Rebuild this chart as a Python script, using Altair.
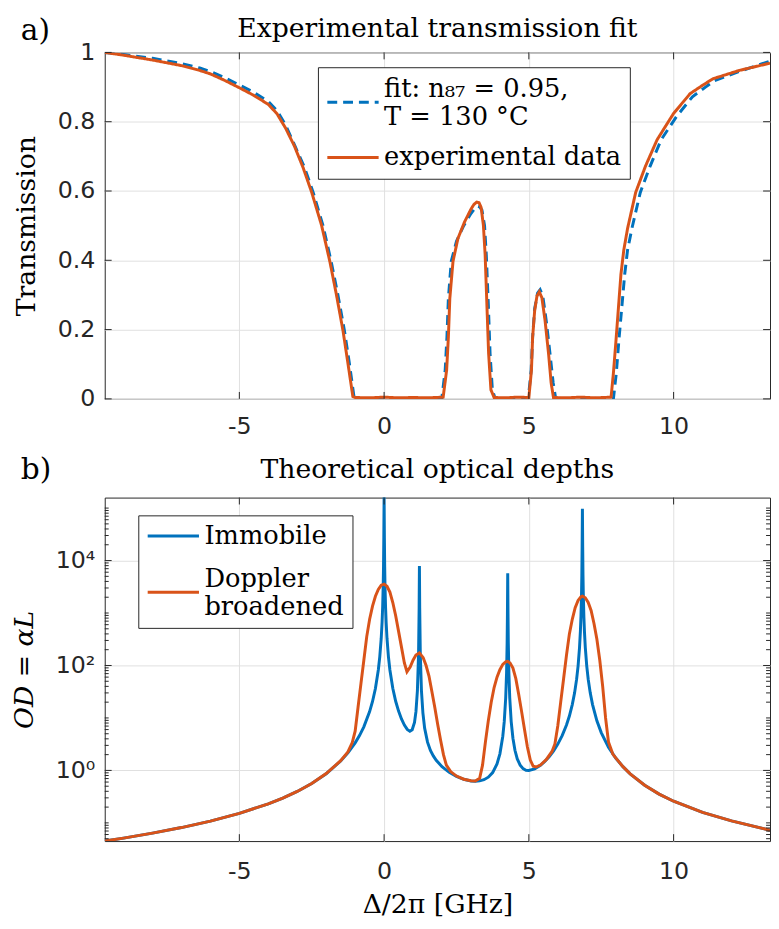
import altair as alt
import pandas as pd

# ---------------- Panel a: transmission ----------------
exp_x = [-9.65, -9.0, -8.0, -7.0, -6.37, -6.0, -5.5, -5.0, -4.5, -4.0, -3.7, -3.4, -3.1, -2.8, -2.5,
         -2.16, -1.875, -1.65, -1.42, -1.25, -1.08, -1.0, -0.5, 0.0, 0.5, 1.0, 1.5, 2.04, 2.16, 2.22,
         2.27, 2.38, 2.55, 2.78, 3.01, 3.1, 3.2, 3.28, 3.35, 3.43, 3.49, 3.55, 3.61, 3.69, 3.8, 4.2,
         4.6, 5.0, 5.09, 5.13, 5.2, 5.28, 5.36, 5.45, 5.56, 5.68, 5.77, 5.85, 6.3, 6.8, 7.3, 7.84,
         7.92, 8.01, 8.18, 8.28, 8.41, 8.69, 9.03, 9.43, 10.0, 10.57, 11.0, 11.36, 12.27, 13.33]
exp_t = [1.0, 0.992, 0.978, 0.962, 0.948, 0.938, 0.919, 0.898, 0.876, 0.850, 0.823, 0.781, 0.73,
         0.668, 0.596, 0.501, 0.397, 0.302, 0.197, 0.103, 0.007, 0.004, 0.003, 0.005, 0.003, 0.004,
         0.003, 0.005, 0.083, 0.178, 0.29, 0.397, 0.463, 0.511, 0.549, 0.561, 0.568, 0.566, 0.553,
         0.501, 0.416, 0.273, 0.131, 0.026, 0.004, 0.003, 0.005, 0.004, 0.083, 0.178, 0.254, 0.297,
         0.309, 0.292, 0.226, 0.131, 0.046, 0.004, 0.003, 0.005, 0.003, 0.005, 0.074, 0.169, 0.359,
         0.43, 0.492, 0.596, 0.672, 0.748, 0.824, 0.881, 0.905, 0.924, 0.948, 0.969]

fit_x = [-9.65, -9.0, -8.0, -7.0, -6.37, -6.0, -5.5, -5.0, -4.5, -4.0, -3.7, -3.4, -3.08, -2.75,
         -2.45, -2.11, -1.83, -1.6, -1.37, -1.2, -1.03, -0.5, 0.0, 0.5, 1.0, 1.5, 1.99, 2.11, 2.17,
         2.22, 2.32, 2.5, 2.75, 3.0, 3.12, 3.22, 3.3, 3.38, 3.47, 3.53, 3.6, 3.66, 3.74, 3.84, 4.4,
         4.98, 5.08, 5.13, 5.2, 5.3, 5.39, 5.48, 5.6, 5.73, 5.84, 5.93, 6.5, 7.2, 7.92, 8.02, 8.11,
         8.31, 8.41, 8.56, 8.85, 9.19, 9.57, 10.1, 10.65, 11.1, 11.4, 12.3, 13.33]
fit_t = [1.0, 0.994, 0.983, 0.968, 0.955, 0.945, 0.927, 0.906, 0.885, 0.858, 0.832, 0.79, 0.73,
         0.668, 0.596, 0.50, 0.397, 0.302, 0.197, 0.103, 0.0, 0.0, 0.0, 0.0, 0.0, 0.0, 0.0, 0.083,
         0.178, 0.29, 0.397, 0.455, 0.50, 0.535, 0.548, 0.556, 0.554, 0.545, 0.50, 0.416, 0.273,
         0.131, 0.026, 0.0, 0.0, 0.0, 0.083, 0.178, 0.26, 0.305, 0.315, 0.298, 0.226, 0.131, 0.046,
         0.0, 0.0, 0.0, 0.0, 0.074, 0.169, 0.359, 0.43, 0.492, 0.596, 0.672, 0.748, 0.815, 0.872,
         0.9, 0.918, 0.946, 0.975]

# ---------------- Panel b: optical depths ----------------
imm_x = [-9.65, -9, -8, -7, -6, -5, -4, -3.5, -3, -2.5, -2, -1.5, -1.25, -1, -0.85, -0.7, -0.5,
         -0.4, -0.3, -0.2, -0.15, -0.1, -0.07, -0.05, -0.03, -0.02, -0.01, 0, 0.01, 0.02, 0.03,
         0.05, 0.07, 0.1, 0.15, 0.2, 0.3, 0.4, 0.5, 0.6, 0.7, 0.8, 0.89, 0.97, 1.05, 1.1, 1.15,
         1.19, 1.21, 1.22, 1.23, 1.25, 1.29, 1.34, 1.4, 1.5, 1.6, 1.7, 1.8, 2.0, 2.25, 2.5, 2.75,
         3.0, 3.15, 3.3, 3.45, 3.6, 3.75, 3.9, 4.0, 4.1, 4.15, 4.2, 4.23, 4.25, 4.26, 4.27, 4.28,
         4.29, 4.31, 4.34, 4.39, 4.45, 4.52, 4.6, 4.7, 4.8, 4.9, 5.0, 5.2, 5.4, 5.55, 5.7, 5.85,
         6.0, 6.15, 6.3, 6.4, 6.5, 6.58, 6.65, 6.7, 6.75, 6.78, 6.8, 6.82, 6.83, 6.84, 6.85, 6.86,
         6.87, 6.88, 6.9, 6.92, 6.95, 7.0, 7.05, 7.12, 7.2, 7.35, 7.5, 7.75, 8, 8.25, 8.5, 9,
         9.5, 10, 11, 12, 13.33]
imm_od = [0.0451, 0.0513, 0.0637, 0.0814, 0.108, 0.152, 0.231, 0.297, 0.397, 0.563, 0.865, 1.51,
          2.16, 3.35, 4.62, 6.78, 13.2, 20.6, 36.5, 82.1, 146, 327, 667, 1300, 3565, 7810, 27300,
          164000, 27300, 7810, 3565, 1300, 667, 327, 146, 82.2, 36.7, 20.8, 13.5, 9.57, 7.31, 6.05,
          5.59, 5.96, 8.24, 13.2, 33, 165, 1250, 7900, 1250, 165, 33, 12.5, 6.39, 3.46, 2.41, 1.89,
          1.56, 1.18, 0.92, 0.77, 0.678, 0.63, 0.623, 0.632, 0.666, 0.743, 0.91, 1.33, 2.07, 4.48,
          8.5, 24.0, 71.5, 274, 958, 5750, 958, 274, 71.5, 24.0, 8.54, 4.11, 2.42, 1.66, 1.26, 1.08,
          1.01, 1.0, 1.07, 1.25, 1.48, 1.82, 2.34, 3.17, 4.6, 7.35, 10.9, 18.0, 30.1, 54.9, 97.4,
          219, 447, 869, 2380, 5210, 18250, 97000, 18250, 5210, 2380, 869, 447, 219, 97.4, 54.8,
          30.1, 18.0, 8.83, 5.26, 2.77, 1.72, 1.18, 0.86, 0.521, 0.354, 0.259, 0.158, 0.109, 0.0723]

dop_x = [-9.65, -9, -8, -7, -6, -5, -4, -3.5, -3, -2.5, -2, -1.5, -1.25, -1.1, -1.0, -0.9, -0.8,
         -0.7, -0.6, -0.5, -0.4, -0.3, -0.2, -0.1, 0, 0.1, 0.2, 0.3, 0.4, 0.5, 0.6, 0.7, 0.79, 0.9,
         1.0, 1.1, 1.22, 1.35, 1.45, 1.55, 1.65, 1.75, 1.85, 1.95, 2.05, 2.15, 2.3, 2.5, 2.75, 3.0,
         3.15, 3.3, 3.4, 3.5, 3.6, 3.7, 3.8, 3.9, 4.0, 4.1, 4.2, 4.27, 4.35, 4.45, 4.55, 4.65, 4.75,
         4.85, 4.95, 5.05, 5.15, 5.25, 5.4, 5.6, 5.8, 5.9, 6.0, 6.1, 6.2, 6.3, 6.4, 6.5, 6.6, 6.7,
         6.8, 6.85, 6.95, 7.05, 7.15, 7.25, 7.35, 7.45, 7.55, 7.65, 7.75, 7.9, 8, 8.25, 8.5, 9, 9.5,
         10, 11, 12, 13.33]
dop_od = [0.0451, 0.0513, 0.0637, 0.0814, 0.108, 0.152, 0.231, 0.297, 0.397, 0.563, 0.87, 1.53,
          2.25, 3.4, 5.6, 16, 45, 126, 355, 760, 1350, 2090, 2820, 3390, 3550, 3240, 2510, 1585,
          890, 447, 224, 112, 76, 93, 126, 158, 174, 141, 100, 63, 32, 16, 7.6, 3.8, 2.0, 1.26,
          0.95, 0.78, 0.68, 0.635, 0.63, 0.71, 1.26, 3.5, 8.9, 20, 38, 60, 83, 105, 117, 120, 112,
          89, 56, 28, 13.2, 6.0, 2.8, 1.58, 1.2, 1.16, 1.27, 1.6, 2.3, 3.2, 7.1, 20, 56, 158, 400,
          760, 1260, 1740, 2040, 2090, 1950, 1585, 1120, 630, 316, 126, 40, 10, 3.5, 2.05, 1.73,
          1.18, 0.86, 0.521, 0.354, 0.259, 0.158, 0.109, 0.0723]

# ---------------- ticks and texts ----------------
x_ticks = [-5, 0, 5, 10]
t_ticks = [0, 0.2, 0.4, 0.6, 0.8, 1]
od_major = [1, 100, 10000]
od_minor = [0.05, 0.06, 0.07, 0.08, 0.09, 0.1, 0.2, 0.3, 0.4, 0.5, 0.6, 0.7, 0.8, 0.9,
            2, 3, 4, 5, 6, 7, 8, 9, 10, 20, 30, 40, 50, 60, 70, 80, 90,
            200, 300, 400, 500, 600, 700, 800, 900, 1000, 2000, 3000, 4000, 5000, 6000, 7000, 8000, 9000,
            20000, 30000, 40000, 50000, 60000, 70000, 80000, 90000, 100000]
title_a = "Experimental transmission fit"
title_b = "Theoretical optical depths"

BLUE = "#0072BD"
ORANGE = "#D95319"
DARK = "#262626"
W = 674
HA = 351
HB = 348

xs = alt.Scale(domain=[-9.65, 13.33], nice=False, zero=False)
ys_a = alt.Scale(domain=[0, 1], nice=False)
ys_b = alt.Scale(type="log", domain=[0.045, 158500], nice=False)

df_fit = pd.DataFrame({"x": fit_x, "y": fit_t, "s": "fit"})
df_exp = pd.DataFrame({"x": exp_x, "y": exp_t, "s": "experimental data"})
df_imm = pd.DataFrame({"x": imm_x, "y": imm_od, "s": "Immobile"})
df_dop = pd.DataFrame({"x": dop_x, "y": dop_od, "s": "Doppler broadened"})
df_xt = pd.DataFrame({"v": x_ticks})
df_tt = pd.DataFrame({"v": t_ticks})
df_om = pd.DataFrame({"v": od_major})
df_on = pd.DataFrame({"v": od_minor})

dom_a = ["fit", "experimental data"]
dom_b = ["Immobile", "Doppler broadened"]

leg_a = alt.Legend(
    title=None, orient="none", legendX=216, legendY=15, symbolType="stroke",
    symbolSize=2700, symbolStrokeWidth=3, labelFont="DejaVu Serif", labelFontSize=26,
    labelColor="black", labelLimit=500, fillColor="white", strokeColor=DARK,
    padding=8, rowPadding=0, labelOffset=4,
    labelBaseline={"expr": "datum.label == 'fit' ? 'bottom' : 'middle'"},
    labelExpr="datum.label == 'fit' ? ['fit: n₈₇ = 0.95,', '\u00a0\u00a0\u00a0\u00a0\u00a0T = 130 °C'] : datum.label",
)
leg_b = alt.Legend(
    title=None, orient="none", legendX=34, legendY=18, symbolType="stroke",
    symbolSize=2700, symbolStrokeWidth=3, labelFont="DejaVu Serif", labelFontSize=26,
    labelColor="black", labelLimit=500, fillColor="white", strokeColor=DARK,
    padding=8, rowPadding=18, labelOffset=4, clipHeight=26,
    labelBaseline={"expr": "datum.label == 'Doppler broadened' ? 'bottom' : 'middle'"},
    labelExpr="datum.label == 'Doppler broadened' ? ['Doppler', 'broadened'] : datum.label",
)

ax_x_a = alt.Axis(values=x_ticks, labelExpr="'' + datum.value", title=None, grid=True,
                  labelPadding=16)
ax_x_b = alt.Axis(values=x_ticks, labelExpr="'' + datum.value", title="Δ/2π [GHz]", grid=True,
                  labelPadding=19, titlePadding=8)
ax_y_a = alt.Axis(values=t_ticks, labelExpr="'' + datum.value", title="Transmission", grid=True,
                  labelPadding=10, titlePadding=17)
ax_y_b = alt.Axis(values=od_major,
                  labelExpr="datum.value == 1 ? '10⁰' : (datum.value == 100 ? '10²' : '10⁴')",
                  title="OD = αL", titleFontStyle="italic", grid=True,
                  labelPadding=10, titlePadding=17)


def tick_layers(ys, ax_x, ax_y, df_y, df_minor, w, h):
    layers = []
    for y0, y1 in [(h, h - 7), (0, 7)]:
        layers.append(alt.Chart(df_xt).mark_rule(color=DARK, strokeWidth=1).encode(
            x=alt.X("v:Q", scale=xs, axis=ax_x), y=alt.value(y0), y2=alt.value(y1)))
    for x0, x1 in [(0, 7), (w, w - 7)]:
        layers.append(alt.Chart(df_y).mark_rule(color=DARK, strokeWidth=1).encode(
            y=alt.Y("v:Q", scale=ys, axis=ax_y), x=alt.value(x0), x2=alt.value(x1)))
    if df_minor is not None:
        for x0, x1 in [(0, 4), (w, w - 4)]:
            layers.append(alt.Chart(df_minor).mark_rule(color=DARK, strokeWidth=1).encode(
                y=alt.Y("v:Q", scale=ys, axis=ax_y), x=alt.value(x0), x2=alt.value(x1)))
    return layers


def text_layers(tag, title, dy_tag, dy_title):
    lab = alt.Chart(pd.DataFrame({"t": [tag]})).mark_text(
        font="DejaVu Serif", fontSize=30, align="left", baseline="middle", color="black"
    ).encode(x=alt.value(-85), y=alt.value(dy_tag), text="t:N")
    ttl = alt.Chart(pd.DataFrame({"t": [title]})).mark_text(
        font="DejaVu Serif", fontSize=27, align="center", baseline="middle", color="black"
    ).encode(x=alt.value(W / 2), y=alt.value(dy_title), text="t:N")
    return [lab, ttl]


col_a = alt.Color("s:N", scale=alt.Scale(domain=dom_a, range=[BLUE, ORANGE]), legend=leg_a)
dash_a = alt.StrokeDash("s:N", scale=alt.Scale(domain=dom_a, range=[[10, 6], [1, 0]]), legend=leg_a)

line_fit = alt.Chart(df_fit).mark_line(clip=True, strokeWidth=3).encode(
    x=alt.X("x:Q", scale=xs, axis=ax_x_a),
    y=alt.Y("y:Q", scale=ys_a, axis=ax_y_a),
    color=col_a, strokeDash=dash_a)
line_exp = alt.Chart(df_exp).mark_line(clip=True, strokeWidth=3).encode(
    x=alt.X("x:Q", scale=xs, axis=ax_x_a),
    y=alt.Y("y:Q", scale=ys_a, axis=ax_y_a),
    color=col_a, strokeDash=dash_a)

panel_a = alt.layer(
    line_fit, line_exp, *tick_layers(ys_a, ax_x_a, ax_y_a, df_tt, None, W, HA),
    *text_layers("a)", title_a, -22, -24)
).properties(width=W, height=HA)

col_b = alt.Color("s:N", scale=alt.Scale(domain=dom_b, range=[BLUE, ORANGE]), legend=leg_b)

line_imm = alt.Chart(df_imm).mark_line(clip=True, strokeWidth=3).encode(
    x=alt.X("x:Q", scale=xs, axis=ax_x_b),
    y=alt.Y("y:Q", scale=ys_b, axis=ax_y_b),
    color=col_b)
line_dop = alt.Chart(df_dop).mark_line(clip=True, strokeWidth=3).encode(
    x=alt.X("x:Q", scale=xs, axis=ax_x_b),
    y=alt.Y("y:Q", scale=ys_b, axis=ax_y_b),
    color=col_b)

panel_b = alt.layer(
    line_imm, line_dop, *tick_layers(ys_b, ax_x_b, ax_y_b, df_om, df_on, W, HB),
    *text_layers("b)", title_b, -28, -28)
).properties(width=W, height=HB)

chart = alt.vconcat(panel_a, panel_b, spacing=15).resolve_scale(
    color="independent", strokeDash="independent", y="independent"
).properties(
    padding={"left": 2, "top": 0, "right": 0, "bottom": 0}
).configure_view(
    stroke=DARK, strokeWidth=1
).configure_axis(
    labelFont="DejaVu Sans", labelFontSize=24, labelColor=DARK,
    titleFont="DejaVu Serif", titleFontSize=27, titleColor="black", titleFontWeight="normal",
    gridColor="#dfdfdf", gridWidth=1, domain=False, ticks=False,
)

chart.save("out.html", embed_options={"renderer": "svg", "actions": False})
